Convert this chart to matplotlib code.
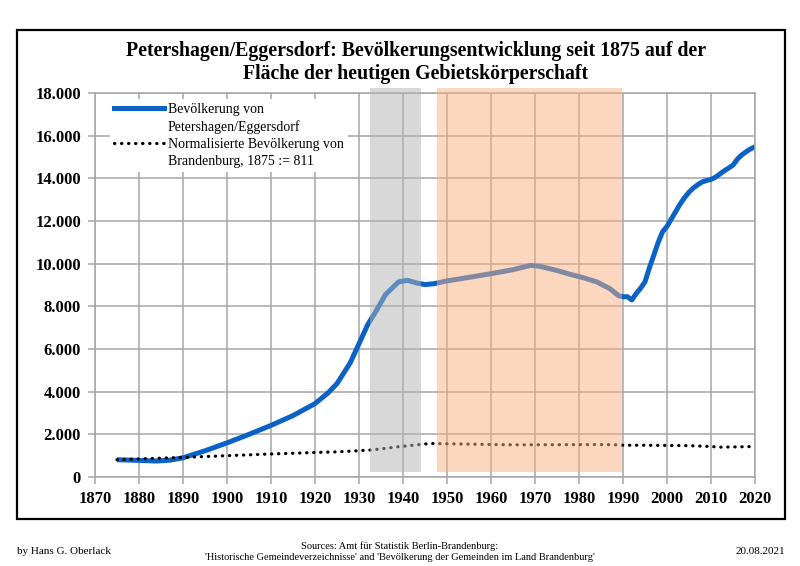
import matplotlib
matplotlib.use("Agg")
import matplotlib.pyplot as plt
from matplotlib.lines import Line2D
from matplotlib.patches import Rectangle
from matplotlib.ticker import FuncFormatter, MultipleLocator

# ---- data ----
pop_years = [1875, 1880, 1884, 1887, 1890, 1895, 1900, 1905, 1910, 1915, 1920,
             1923, 1925, 1928, 1930, 1932, 1934, 1936, 1939, 1941, 1943, 1945,
             1947, 1950, 1955, 1960, 1965, 1969, 1971, 1975, 1978, 1981, 1984,
             1987, 1989, 1990, 1991, 1992, 1993, 1994, 1995, 1996, 1997, 1998,
             1999, 2000, 2001, 2002, 2003, 2004, 2005, 2006, 2007, 2008, 2009,
             2010, 2011, 2012, 2013, 2014, 2015, 2016, 2017, 2018, 2019, 2020]
pop_values = [811, 780, 750, 790, 900, 1230, 1600, 2000, 2420, 2880, 3440,
              3950, 4380, 5350, 6250, 7150, 7820, 8550, 9150, 9220, 9100, 9020,
              9060, 9190, 9360, 9530, 9720, 9920, 9880, 9680, 9500, 9340, 9150,
              8830, 8500, 8450, 8450, 8300, 8600, 8850, 9150, 9800, 10400, 11000,
              11500, 11750, 12100, 12450, 12800, 13100, 13350, 13550, 13700,
              13830, 13900, 13950, 14050, 14200, 14350, 14480, 14620, 14900,
              15100, 15250, 15380, 15480]

norm_years = [1875, 1890, 1900, 1910, 1920, 1925, 1933, 1939, 1946, 1950, 1964,
              1971, 1981, 1985, 1989, 1990, 1995, 2000, 2005, 2010, 2012, 2015, 2020]
norm_values = [811, 920, 1000, 1080, 1150, 1180, 1270, 1420, 1570, 1560, 1510,
               1510, 1520, 1520, 1510, 1490, 1490, 1480, 1470, 1430, 1400, 1410, 1430]

spans = [(1932.5, 1944.2, "#b3b3b3"), (1947.8, 1989.8, "#f7b07e")]

label_pop = ["Bevölkerung von", "Petershagen/Eggersdorf"]
label_norm = ["Normalisierte Bevölkerung von", "Brandenburg, 1875 := 811"]

title = ("Petershagen/Eggersdorf: Bevölkerungsentwicklung seit 1875 auf der\n"
         "Fläche der heutigen Gebietskörperschaft")

serif = ["Liberation Serif", "DejaVu Serif"]
plt.rcParams["font.family"] = serif

fig = plt.figure(figsize=(8, 5.66), dpi=100)
ax = fig.add_axes([0.11875, 0.1572, 0.825, 0.6785])

blue = "#0a62c6"
grid_c = "#a6a6a6"

ax.plot(pop_years, pop_values, color=blue, lw=3.6, solid_capstyle="butt",
        solid_joinstyle="round", zorder=2)
ax.plot(norm_years, norm_values, color="black", lw=2.3,
        linestyle=(0, (0.1, 2.1)), dash_capstyle="round", zorder=2.1)

for x0, x1, c in spans:
    ax.axvspan(x0, x1, ymin=0.013, ymax=1.013, color=c, alpha=0.5, lw=0,
               zorder=3, clip_on=False)

ax.set_xlim(1870, 2020)
ax.set_ylim(0, 18000)
ax.xaxis.set_major_locator(MultipleLocator(10))
ax.yaxis.set_major_locator(MultipleLocator(2000))
ax.yaxis.set_major_formatter(FuncFormatter(lambda v, p: f"{v:,.0f}".replace(",", ".")))
ax.grid(True, color=grid_c, lw=1.1, zorder=0.5)
ax.set_axisbelow(True)
for s in ax.spines.values():
    s.set_color(grid_c)
    s.set_linewidth(1.1)
ax.tick_params(axis="both", direction="out", length=5, width=1.1, color=grid_c,
               labelsize=12, pad=5)
for lab in ax.get_xticklabels() + ax.get_yticklabels():
    lab.set_fontweight("bold")

handles = [Line2D([], [], color=blue, lw=3.6),
           Line2D([], [], color="none"),
           Line2D([], [], color="black", lw=2.3, linestyle=(0, (0.1, 2.1)),
                  dash_capstyle="round"),
           Line2D([], [], color="none")]
labels = [label_pop[0], label_pop[1], label_norm[0], label_norm[1]]
leg = ax.legend(handles, labels, loc="upper left", bbox_to_anchor=(0.018, 0.992),
                frameon=True, facecolor="white", edgecolor="none", framealpha=1,
                fancybox=False, fontsize=10, labelspacing=0.3,
                handlelength=3.6, handletextpad=0.3, borderpad=0.3,
                borderaxespad=0.2)
leg.set_zorder(5)

fig.text(0.52, 0.889, title, ha="center", va="center", fontsize=14.3,
         fontweight="bold", linespacing=1.2)

fig.patches.append(Rectangle((0.021, 0.083), 0.960, 0.864, transform=fig.transFigure,
                             fill=False, edgecolor="black", lw=1.6))

fig.text(0.021, 0.025, "by Hans G. Oberlack", ha="left", va="center", fontsize=8)
fig.text(0.5, 0.025,
         "Sources: Amt für Statistik Berlin-Brandenburg:\n"
         "'Historische Gemeindeverzeichnisse' and 'Bevölkerung der Gemeinden im Land Brandenburg'",
         ha="center", va="center", fontsize=7.5, linespacing=1.3)
fig.text(0.981, 0.025, "20.08.2021", ha="right", va="center", fontsize=8)

fig.savefig("out.png", dpi=100)
